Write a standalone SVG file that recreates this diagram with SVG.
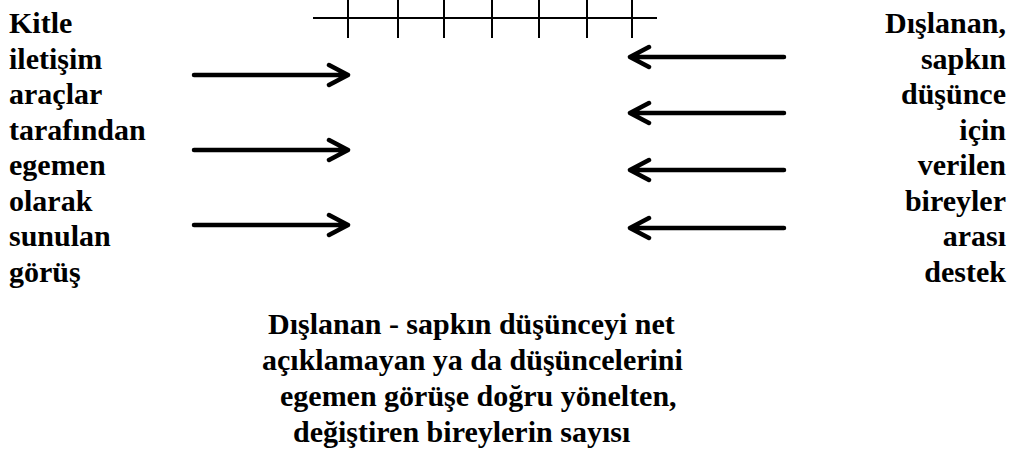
<svg xmlns="http://www.w3.org/2000/svg" width="1012" height="459" viewBox="0 0 1012 459">
<rect width="1012" height="459" fill="#fff"/>
<g id="scale" stroke="#000" stroke-width="2" fill="none">
<path d="M313,18 H657 M348,0 V38 M398,0 V38 M444,0 V38 M492,0 V38 M539,0 V38 M587,0 V38 M632,0 V38"/>
</g>
<g font-size="30" font-weight="bold">
<g id="left-node">
<text x="9" y="33" font-family="Tinos">Kitle</text>
<text x="9" y="68.5" font-family="Tinos">iletişim</text>
<text x="9" y="104" font-family="Tinos">araçlar</text>
<text x="9" y="139.5" font-family="Tinos">tarafından</text>
<text x="9" y="175" font-family="Tinos">egemen</text>
<text x="9" y="210.5" font-family="Tinos">olarak</text>
<text x="9" y="246" font-family="Tinos">sunulan</text>
<text x="9" y="281.5" font-family="Tinos">görüş</text>
</g>
<g id="right-node" text-anchor="end">
<text x="1006" y="33" font-family="Times New Roman">Dışlanan,</text>
<text x="1006" y="68.5" font-family="Times New Roman">sapkın</text>
<text x="1006" y="104" font-family="Times New Roman">düşünce</text>
<text x="1006" y="139.5" font-family="Times New Roman">için</text>
<text x="1006" y="175" font-family="Times New Roman">verilen</text>
<text x="1006" y="210.5" font-family="Times New Roman">bireyler</text>
<text x="1006" y="246" font-family="Times New Roman">arası</text>
<text x="1006" y="281.5" font-family="Times New Roman">destek</text>
</g>
<g id="bottom-node" font-family="serif">
<text x="268" y="334">Dışlanan - sapkın düşünceyi net</text>
<text x="262" y="370">açıklamayan ya da düşüncelerini</text>
<text x="280" y="406">egemen görüşe doğru yönelten,</text>
<text x="293" y="442">değiştiren bireylerin sayısı</text>
</g>
</g>
<g id="connectors" stroke="#000" stroke-width="4.5" fill="none" stroke-linecap="round" stroke-linejoin="round">
<path d="M194,75 H348 M329,65 L348,75 L329,85"/>
<path d="M194,150 H348 M329,140 L348,150 L329,160"/>
<path d="M194,225 H348 M329,215 L348,225 L329,235"/>
<path d="M784,57 H630 M649,47 L630,57 L649,67"/>
<path d="M784,113 H630 M649,103 L630,113 L649,123"/>
<path d="M784,170 H630 M649,160 L630,170 L649,180"/>
<path d="M784,228 H630 M649,218 L630,228 L649,238"/>
</g>
</svg>
